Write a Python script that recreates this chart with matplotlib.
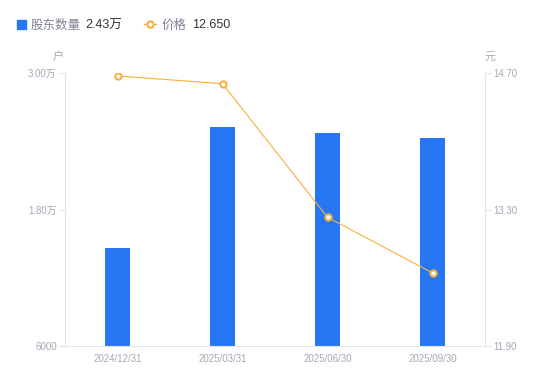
import matplotlib
matplotlib.use("Agg")
import matplotlib.pyplot as plt
from matplotlib.lines import Line2D
from matplotlib.patches import Rectangle

plt.rcParams['font.family'] = ['Liberation Sans', 'Noto Sans CJK SC', 'DejaVu Sans']

# --- data ---
dates = ["2024/12/31", "2025/03/31", "2025/06/30", "2025/09/30"]
holders = [14600, 25250, 24700, 24300]
price = [14.67, 14.59, 13.22, 12.65]
left_ticks = [6000, 18000, 30000]
left_labels = ["6000", "1.80万", "3.00万"]
right_ticks = [11.90, 13.30, 14.70]
right_labels = ["11.90", "13.30", "14.70"]

blue = '#2777F5'
orange = '#F7B03C'
grey_txt = '#A3A8B5'
spine_c = '#E3E5EA'

fig = plt.figure(figsize=(5.5, 3.81), dpi=100)
ax = fig.add_axes([65/550, 35/381, 420/550, 273/381])
ax2 = ax.twinx()

x = range(len(dates))
ax.bar(x, holders, width=0.23, color=blue, zorder=2)
ax.set_xlim(-0.5, len(dates) - 0.5)
ax.set_ylim(6000, 30000)
ax.set_yticks(left_ticks)
ax.set_yticklabels(left_labels)
ax.set_xticks(list(x))
ax.set_xticklabels(dates)

ax2.plot(x, price, color=orange, lw=0.8, marker='o', ms=4.5, mfc='white',
         mec=orange, mew=1.5, zorder=3)
ax2.set_ylim(11.90, 14.70)
ax2.set_yticks(right_ticks)
ax2.set_yticklabels(right_labels)

for a in (ax, ax2):
    for s in a.spines.values():
        s.set_visible(False)
    a.tick_params(colors=grey_txt, labelsize=7, length=4, width=0.8)
    a.tick_params(axis='y', color=spine_c)
ax.spines['left'].set_visible(True)
ax.spines['left'].set_color(spine_c)
ax.spines['bottom'].set_visible(True)
ax.spines['bottom'].set_color(spine_c)
ax2.spines['right'].set_visible(True)
ax2.spines['right'].set_color(spine_c)
ax.tick_params(axis='x', length=0, pad=6)
ax.tick_params(axis='y', pad=2)
ax2.tick_params(axis='y', pad=2)

# unit labels
fig.text(58/550, 1 - 57/381, "户", color=grey_txt, fontsize=8, ha='center', va='center')
fig.text(490/550, 1 - 57/381, "元", color=grey_txt, fontsize=8, ha='center', va='center')

# legend
ly = 1 - 24/381
ty = 1 - 25.5/381
fig.add_artist(Rectangle((17/550, ly - 4.5/381), 9/550, 9/381, color=blue,
                         transform=fig.transFigure))
fig.text(31/550, ty, "股东数量", color='#7F8494', fontsize=9, va='center')
fig.text(85/550, ty, "2.43万", color='#333333', fontsize=9, va='center')
fig.add_artist(Line2D([144/550, 156/550], [ly, ly], color=orange, lw=1,
                      transform=fig.transFigure))
fig.add_artist(Line2D([150/550], [ly], color=orange, marker='o', ms=4.5,
                      mfc='white', mew=1.5, transform=fig.transFigure))
fig.text(162/550, ty, "价格", color='#7F8494', fontsize=9, va='center')
fig.text(192/550, ty, "12.650", color='#333333', fontsize=9, va='center')

fig.savefig("out.png", dpi=100)
